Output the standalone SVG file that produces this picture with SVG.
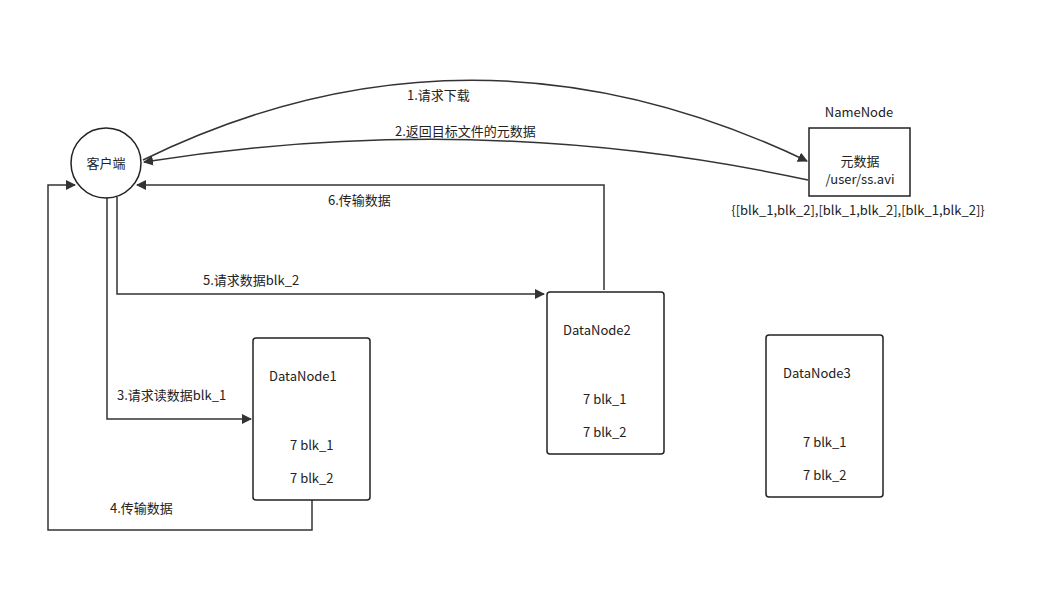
<svg xmlns="http://www.w3.org/2000/svg" width="1059" height="593" viewBox="0 0 1059 593">
<style>
text{font-family:"Noto Sans CJK SC","Noto Sans",sans-serif;font-size:13px;fill:#222}
.n{fill:#fff;stroke:#222;stroke-width:1.5}
.e{fill:none;stroke:#333;stroke-width:1.5;marker-end:url(#a)}
</style>
<defs><marker id="a" viewBox="0 0 10 10" refX="9" refY="5" markerWidth="10" markerHeight="10" markerUnits="userSpaceOnUse" orient="auto"><path d="M0,0L10,5L0,10z" fill="#333"/></marker></defs>
<rect width="1059" height="593" fill="#fff"/>
<g id="connectors">
<path class="e" d="M143,160Q470,0 807,161"/>
<path class="e" d="M808,180Q480,109 144,162"/>
<path class="e" d="M604,290V185H137"/>
<path class="e" d="M117,197V294H544"/>
<path class="e" d="M107,197V419H251"/>
<path class="e" d="M312,500V530H48V185H75"/>
<text x="407" y="100">1.请求下载</text>
<text x="395" y="136">2.返回目标文件的元数据</text>
<text x="328" y="205">6.传输数据</text>
<text x="203" y="285">5.请求数据blk_2</text>
<text x="117" y="400">3.请求读数据blk_1</text>
<text x="110" y="513">4.传输数据</text>
</g>
<g id="client"><circle class="n" cx="106" cy="163" r="35"/><text x="106" y="168" text-anchor="middle">客户端</text></g>
<g id="namenode"><rect class="n" x="809" y="128" width="101" height="68"/>
<text x="859" y="117" text-anchor="middle">NameNode</text>
<text x="860" y="166" text-anchor="middle" font-size="12">元数据</text>
<text x="860" y="184" text-anchor="middle" font-size="12">/user/ss.avi</text>
<text x="858" y="215" text-anchor="middle">{[blk_1,blk_2],[blk_1,blk_2],[blk_1,blk_2]}</text></g>
<g id="dn1"><rect class="n" x="253" y="338" width="117" height="162" rx="3"/>
<text x="269" y="381">DataNode1</text><text x="290" y="450">7 blk_1</text><text x="290" y="483">7 blk_2</text></g>
<g id="dn2"><rect class="n" x="547" y="292" width="117" height="162" rx="3"/>
<text x="563" y="335">DataNode2</text><text x="583" y="404">7 blk_1</text><text x="583" y="437">7 blk_2</text></g>
<g id="dn3"><rect class="n" x="766" y="335" width="117" height="162" rx="3"/>
<text x="783" y="378">DataNode3</text><text x="803" y="447">7 blk_1</text><text x="803" y="480">7 blk_2</text></g>
</svg>
